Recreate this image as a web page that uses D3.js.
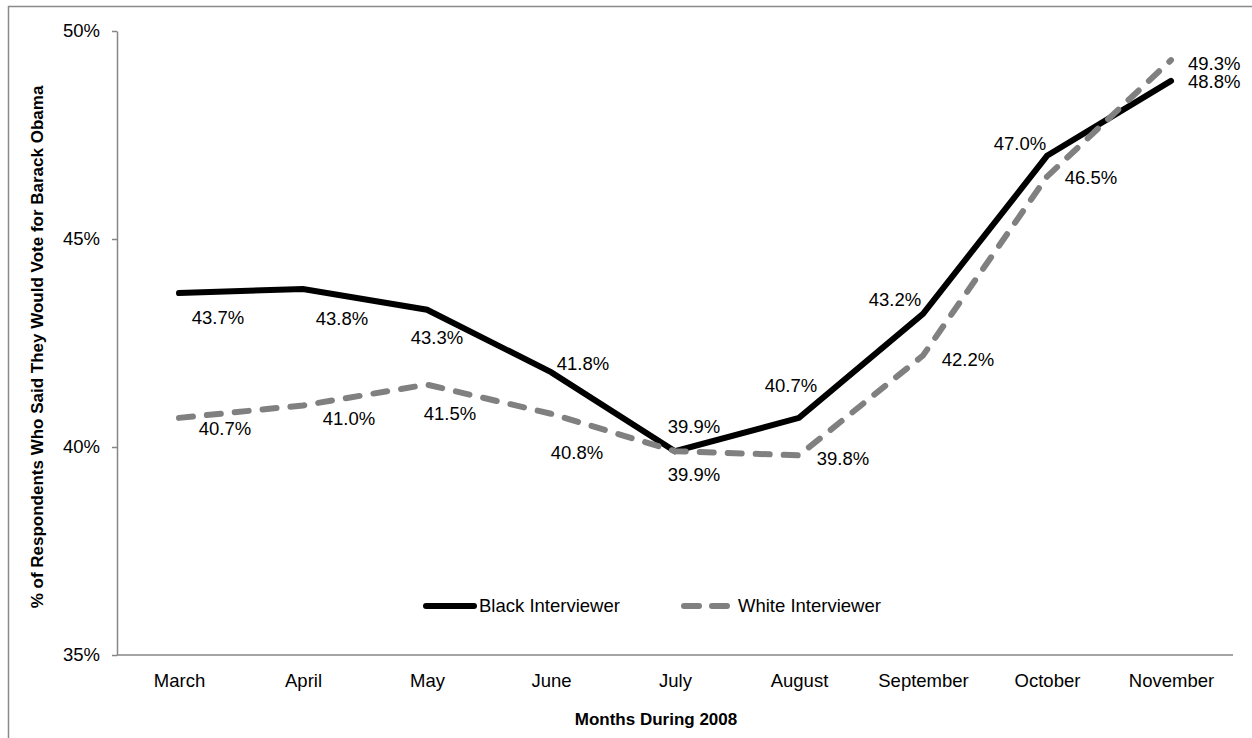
<!DOCTYPE html>
<html>
<head>
<meta charset="utf-8">
<script src="https://cdn.jsdelivr.net/npm/d3@7/dist/d3.min.js"></script>
<style>
  html, body { margin: 0; padding: 0; background: #fff; }
  svg { display: block; font-family: "Liberation Sans", Arial, sans-serif; }
</style>
</head>
<body>
<svg id="chart" width="1252" height="738"></svg>
<script>
// ---- data ----
const months = ["March", "April", "May", "June", "July", "August", "September", "October", "November"];
const blackInterviewer = [43.7, 43.8, 43.3, 41.8, 39.9, 40.7, 43.2, 47.0, 48.8];
const whiteInterviewer = [40.7, 41.0, 41.5, 40.8, 39.9, 39.8, 42.2, 46.5, 49.3];
const yTicks = [35, 40, 45, 50];
const seriesNames = ["Black Interviewer", "White Interviewer"];
const xTitle = "Months During 2008";
const yTitle = "% of Respondents Who Said They Would Vote for Barack Obama";

// ---- layout / style (not data) ----
const plot = { left: 117, right: 1233, top: 31, bottom: 655 };
const fontSize = 18.5;
const blackLabelOffsets = [[39,24],[39,30],[10,28],[32,-9],[19,-25],[-8,-32],[-28,-14],[-27,-12],[17,1]];
const whiteLabelOffsets = [[46,11],[46,13],[23,29],[26,39],[19,23],[44,3],[45,4],[44,1],[17,3]];

const svg = d3.select("#chart");

// outer border
svg.append("rect")
  .attr("x", 8.5).attr("y", 6.5).attr("width", 1260).attr("height", 760)
  .attr("fill", "none").attr("stroke", "#8a8a8a").attr("stroke-width", 1.5);

const x = d3.scalePoint().domain(months).range([plot.left, plot.right]).padding(0.5);
const y = d3.scaleLinear().domain([35, 50]).range([plot.bottom, plot.top]);

// y axis
const yAxis = svg.append("g")
  .attr("transform", `translate(${plot.left},0)`)
  .call(d3.axisLeft(y).tickValues(yTicks).tickFormat(d => d + "%").tickSize(5).tickSizeOuter(0).tickPadding(12));
yAxis.select(".domain").attr("stroke", "#868686").attr("stroke-width", 1.5);
yAxis.selectAll(".tick line").attr("stroke", "#868686").attr("stroke-width", 1.5);
yAxis.selectAll(".tick text").attr("fill", "#000").style("font-size", fontSize + "px")
  .style("font-family", '"Liberation Sans", Arial, sans-serif');

// x axis
const xAxis = svg.append("g")
  .attr("transform", `translate(0,${plot.bottom})`)
  .call(d3.axisBottom(x).tickSize(0).tickSizeOuter(0).tickPadding(19));
xAxis.select(".domain").attr("stroke", "#868686").attr("stroke-width", 1.5)
  .attr("d", `M${plot.left},0H${plot.right}`);
xAxis.selectAll(".tick text").attr("fill", "#000").style("font-size", fontSize + "px")
  .style("font-family", '"Liberation Sans", Arial, sans-serif');

// axis titles
svg.append("text")
  .attr("x", 656).attr("y", 725)
  .attr("text-anchor", "middle")
  .style("font-size", "17px").style("font-weight", "bold")
  .text(xTitle);
svg.append("text")
  .attr("transform", "translate(43,347) rotate(-90)")
  .attr("text-anchor", "middle")
  .style("font-size", "17px").style("font-weight", "bold")
  .text(yTitle);

const line = d3.line().x((d, i) => x(months[i])).y(d => y(d));

// black series
svg.append("path")
  .datum(blackInterviewer)
  .attr("d", line)
  .attr("fill", "none").attr("stroke", "#000").attr("stroke-width", 6)
  .attr("stroke-linecap", "round").attr("stroke-linejoin", "miter");

// white series (gray dashed)
svg.append("path")
  .datum(whiteInterviewer)
  .attr("d", line)
  .attr("fill", "none").attr("stroke", "#808080").attr("stroke-width", 6)
  .attr("stroke-dasharray", "14,14")
  .attr("stroke-linecap", "round").attr("stroke-linejoin", "miter");

// data labels
function labels(values, offsets) {
  svg.append("g").selectAll("text")
    .data(values)
    .join("text")
    .attr("x", (d, i) => x(months[i]) + offsets[i][0])
    .attr("y", (d, i) => y(d) + offsets[i][1])
    .attr("dy", "0.35em")
    .attr("text-anchor", (d, i) => i === values.length - 1 ? "start" : "middle")
    .style("font-size", fontSize + "px")
    .text(d => d.toFixed(1) + "%");
}
labels(blackInterviewer, blackLabelOffsets);
labels(whiteInterviewer, whiteLabelOffsets);

// legend
const lg = svg.append("g");
lg.append("line").attr("x1", 426).attr("x2", 474).attr("y1", 606).attr("y2", 606)
  .attr("stroke", "#000").attr("stroke-width", 6).attr("stroke-linecap", "round");
lg.append("text").attr("x", 479).attr("y", 606).attr("dy", "0.35em")
  .style("font-size", fontSize + "px").text(seriesNames[0]);
lg.append("line").attr("x1", 684).attr("x2", 728).attr("y1", 606).attr("y2", 606)
  .attr("stroke", "#808080").attr("stroke-width", 6).attr("stroke-linecap", "round")
  .attr("stroke-dasharray", "15,13");
lg.append("text").attr("x", 738).attr("y", 606).attr("dy", "0.35em")
  .style("font-size", fontSize + "px").text(seriesNames[1]);
</script>
</body>
</html>
